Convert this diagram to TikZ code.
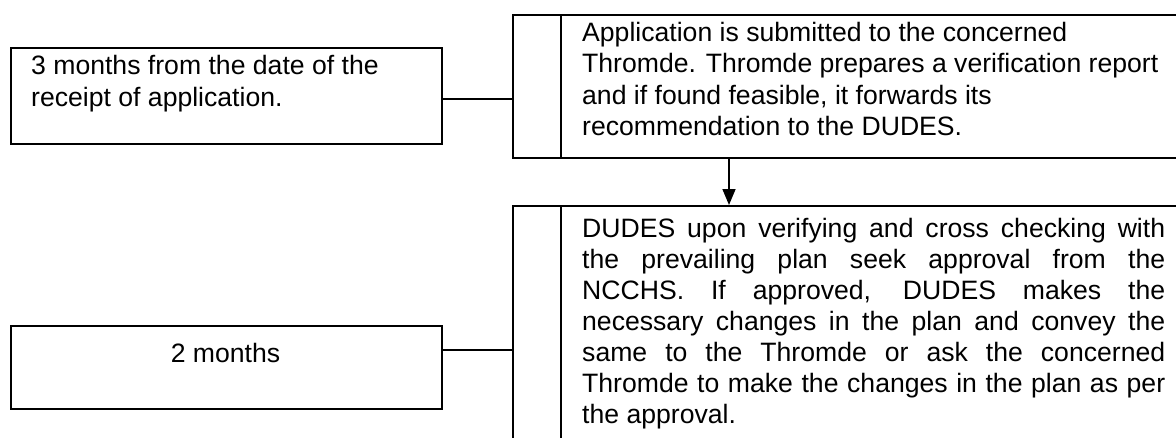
\documentclass[tikz,border=0pt]{standalone}
\usepackage{fontspec}
\setmainfont{Liberation Sans}
\usetikzlibrary{arrows.meta}
\tikzset{
  boxline/.style={draw=black, line width=2pt, rectangle, inner sep=0pt},
  divline/.style={draw=black, line width=2pt},
  connline/.style={draw=black, line width=1.6pt},
  arrline/.style={draw=black, line width=1.6pt, -{Triangle[length=16pt,width=13pt]}},
  txt/.style={inner sep=0pt, font=\fontsize{26.6}{31.5}\selectfont},
}
\begin{document}
\begin{tikzpicture}[x=1pt,y=-1pt]
\useasboundingbox (0,0) rectangle (1176,437);
% left boxes
\node[boxline, minimum width=431pt, minimum height=96pt, anchor=north west] (lb1) at (10,47) {};
\node[boxline, minimum width=431pt, minimum height=83pt, anchor=north west] (lb2) at (10,325) {};
% right boxes (extending beyond the page edges)
\node[boxline, minimum width=700pt, minimum height=143pt, anchor=north west] (rb1) at (512,14) {};
\node[boxline, minimum width=700pt, minimum height=260pt, anchor=north west] (rb2) at (512,205) {};
% dividers
\draw[divline] ([xshift=49pt]rb1.north west) -- ([xshift=49pt]rb1.south west);
\draw[divline] ([xshift=49pt]rb2.north west) -- ([xshift=49pt]rb2.south west);
% texts
\node[txt, anchor=base west] (t1) at (31,74) {\fontsize{26.6}{32.5}\selectfont\parbox[t]{400pt}{\raggedright 3 months from the date of the\\receipt of application.}};
\node[txt, anchor=base] (t2) at (225.5,362) {2 months};
\node[txt, anchor=base west] (t3) at (582,41) {\parbox[t]{600pt}{\raggedright Application is submitted to the concerned\\Thromde. Thromde prepares a verification report\\and if found feasible, it forwards its\\recommendation to the DUDES.}};
\node[txt, anchor=base west] (t4) at (582,237) {\fontsize{26.6}{31}\selectfont\parbox[t]{583pt}{%
\makebox[583pt][s]{DUDES upon verifying and cross checking with}\\
\makebox[583pt][s]{the prevailing plan seek approval from the}\\
\makebox[583pt][s]{NCCHS. If approved, DUDES makes the}\\
\makebox[583pt][s]{necessary changes in the plan and convey the}\\
\makebox[583pt][s]{same to the Thromde or ask the concerned}\\
\makebox[583pt][s]{Thromde to make the changes in the plan as per}\\
the approval.}};
% connectors
\coordinate (cy1) at (0,99);
\coordinate (cy2) at (0,350);
\draw[connline] (lb1.east |- cy1) -- (rb1.west |- cy1);
\draw[connline] (lb2.east |- cy2) -- (rb2.west |- cy2);
\draw[arrline] ([xshift=217pt]rb1.south west) -- ([xshift=217pt]rb2.north west);
\end{tikzpicture}
\end{document}
